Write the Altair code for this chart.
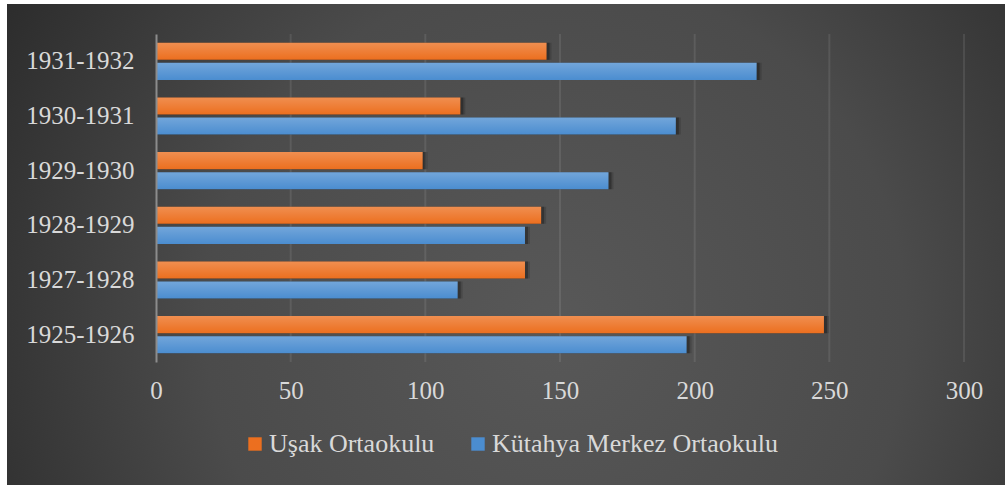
import altair as alt
import pandas as pd

# ---- data ----
periods = ["1931-1932", "1930-1931", "1929-1930", "1928-1929", "1927-1928", "1925-1926"]
usak = [145, 113, 99, 143, 137, 248]
kutahya = [223, 193, 168, 137, 112, 197]
series = ["Uşak Ortaokulu", "Kütahya Merkez Ortaokulu"]
tick_values = [0, 50, 100, 150, 200, 250, 300]
series_colors = ["#ec6f1f", "#4b8dd0"]

rows = []
for p, u, k in zip(periods, usak, kutahya):
    rows.append({"period": p, "school": series[0], "value": u})
    rows.append({"period": p, "school": series[1], "value": k})
df = pd.DataFrame(rows)

FONT = "Liberation Serif, Times New Roman, serif"
TXT = "#d9d9d9"
W, H = 808, 328
LEFT, TOP = 156, 34
RIGHT, BOTTOM = 1005 - LEFT - W, 485 - TOP - H

xscale = alt.Scale(domain=[0, 300], nice=False, zero=True)
yscale = alt.Scale(paddingInner=0.32, paddingOuter=0.16)
yoffscale = alt.Scale(paddingInner=0.15, paddingOuter=0)

xaxis = alt.Axis(
    values=tick_values, title=None, grid=False, ticks=False, domain=False,
    labelFont=FONT, labelFontSize=25, labelColor=TXT, labelPadding=16,
    labelFlush=False, labelOverlap=False, zindex=1,
)
yaxis = alt.Axis(
    title=None, grid=False, ticks=False, domain=True,
    domainColor="#8c8c8c", domainWidth=2,
    labelFont=FONT, labelFontSize=25, labelColor=TXT, labelPadding=22,
    zindex=1,
)

bg_grad = {
    "gradient": "radial",
    "x1": 0.55, "y1": 0.58, "r1": 0,
    "x2": 0.55, "y2": 0.58, "r2": 0.78,
    "stops": [
        {"offset": 0, "color": "#585858"},
        {"offset": 0.45, "color": "#4b4b4b"},
        {"offset": 1, "color": "#1d1d1d"},
    ],
}

bg = alt.Chart(pd.DataFrame({"k": [0]})).mark_rect(color=bg_grad).encode(
    x=alt.value(7 - LEFT), x2=alt.value(1005 - LEFT),
    y=alt.value(4 - TOP), y2=alt.value(485 - TOP),
)

grid = alt.Chart(pd.DataFrame({"value": tick_values[1:]})).mark_rule(
    color="white", opacity=0.09, strokeWidth=2
).encode(x=alt.X("value:Q", scale=xscale, axis=xaxis))

base = alt.Chart(df)

xenc = alt.X("value:Q", stack=None, scale=xscale, axis=xaxis)
yenc = alt.Y("period:N", sort=periods, scale=yscale, axis=yaxis)
yoff = alt.YOffset("school:N", sort=series, scale=yoffscale)

shadow2 = base.mark_bar(color="black", opacity=0.14, xOffset=5, yOffset=6).encode(
    x=xenc, y=yenc, yOffset=yoff
)
shadow1 = base.mark_bar(color="black", opacity=0.28, xOffset=3, yOffset=3).encode(
    x=xenc, y=yenc, yOffset=yoff
)

bars = base.mark_bar().encode(
    x=xenc,
    y=yenc,
    yOffset=yoff,
    color=alt.Color(
        "school:N",
        scale=alt.Scale(domain=series, range=series_colors),
        legend=alt.Legend(
            orient="none", legendX=86, legendY=397, direction="horizontal",
            title=None, symbolType="square", symbolSize=180, symbolStrokeWidth=0,
            labelFont=FONT, labelFontSize=26, labelColor=TXT, labelOffset=1,
            labelLimit=600, columnPadding=30,
        ),
    ),
)

shine_grad = {
    "gradient": "linear", "x1": 0, "y1": 0, "x2": 0, "y2": 1,
    "stops": [
        {"offset": 0, "color": "rgba(255,255,255,0.22)"},
        {"offset": 1, "color": "rgba(255,255,255,0.0)"},
    ],
}
shine = base.mark_bar(color=shine_grad).encode(x=xenc, y=yenc, yOffset=yoff)

chart = alt.layer(bg, grid, shadow2, shadow1, bars, shine).properties(
    width=W, height=H,
    autosize=alt.AutoSizeParams(type="none"),
    padding={"left": LEFT, "top": TOP, "right": RIGHT, "bottom": BOTTOM},
    background="white",
).configure_view(stroke=None)

chart.save("out.html", embed_options={"renderer": "svg", "actions": False})
